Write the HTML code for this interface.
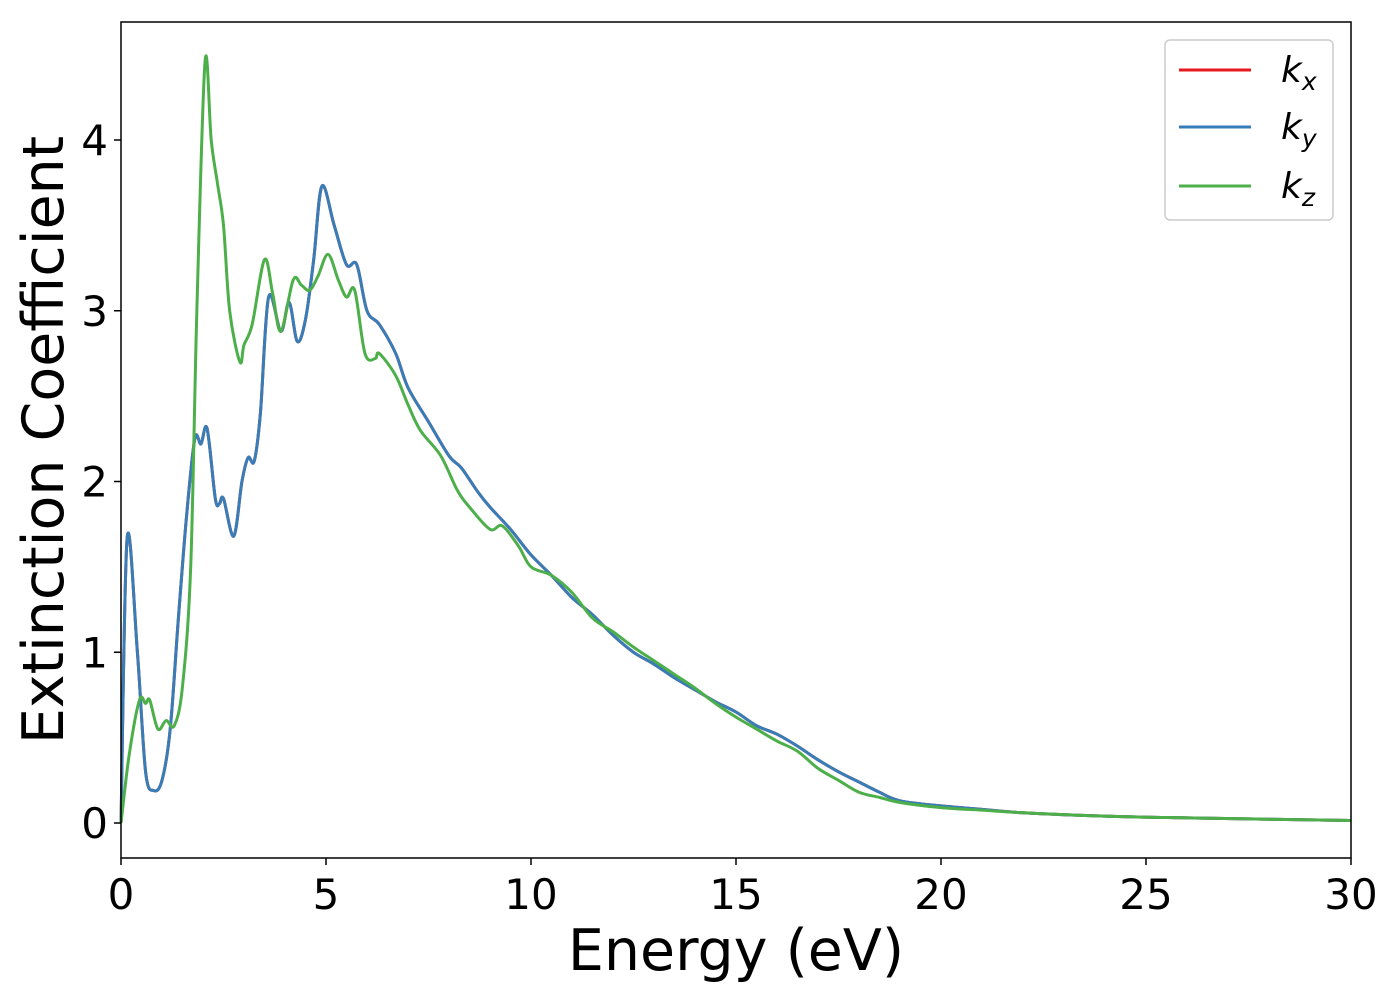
<!DOCTYPE html>
<html><head><meta charset="utf-8"><style>
body{margin:0;background:#fff}
svg text{font-family:"DejaVu Sans","Liberation Sans",sans-serif}
</style></head><body>
<svg id="chart" width="1400" height="1000" xmlns="http://www.w3.org/2000/svg">
<rect width="1400" height="1000" fill="#fff"/>
<g id="plot"></g>
<rect x="121" y="22" width="1230" height="836" fill="none" stroke="#000" stroke-width="1.5"/>
<g id="ticks"></g>
<text x="736" y="970" font-size="57" text-anchor="middle">Energy (eV)</text>
<text transform="translate(63,440) rotate(-90)" font-size="57" text-anchor="middle">Extinction Coefficient</text>
<g>
<rect x="1165" y="40" width="168" height="180" rx="5" fill="#fff" stroke="#ccc" stroke-width="1.5"/>
<line x1="1179" y1="70" x2="1251" y2="70" stroke="#e41a1c" stroke-width="3"/>
<text x="1281" y="82" font-size="36" font-style="italic">k<tspan font-size="25" dy="8">x</tspan></text>
<line x1="1179" y1="127" x2="1251" y2="127" stroke="#377eb8" stroke-width="3"/>
<text x="1281" y="139" font-size="36" font-style="italic">k<tspan font-size="25" dy="8">y</tspan></text>
<line x1="1179" y1="186" x2="1251" y2="186" stroke="#4daf4a" stroke-width="3"/>
<text x="1281" y="198" font-size="36" font-style="italic">k<tspan font-size="25" dy="8">z</tspan></text>
</g>
</svg>
<script>
const xTicks=[0,5,10,15,20,25,30];
const yTicks=[0,1,2,3,4];
const energyXY=[0,0.15,0.4,0.6,0.8,1.0,1.2,1.4,1.6,1.8,1.95,2.1,2.3,2.4,2.5,2.75,2.95,3.1,3.25,3.4,3.6,3.9,4.1,4.3,4.5,4.7,4.9,5.2,5.5,5.75,6.0,6.3,6.7,7,7.5,8,8.3,8.7,9,9.5,10,10.5,11,11.5,12,12.5,13,13.5,14,14.5,15,15.5,16,16.5,17,17.5,18,18.5,19,20,21,22,24,26,30];
const kxValues=[0,1.67,1.0,0.3,0.19,0.25,0.55,1.2,1.8,2.25,2.22,2.31,1.9,1.87,1.9,1.68,2.0,2.14,2.12,2.4,3.08,2.88,3.05,2.82,2.95,3.3,3.73,3.5,3.27,3.27,3.0,2.92,2.75,2.55,2.35,2.15,2.08,1.94,1.85,1.72,1.57,1.45,1.32,1.22,1.1,1.0,0.93,0.85,0.78,0.71,0.65,0.57,0.52,0.45,0.37,0.3,0.24,0.18,0.13,0.1,0.08,0.06,0.04,0.03,0.015];
const kyValues=kxValues.slice();
const energyZ=[0,0.2,0.45,0.6,0.7,0.9,1.1,1.3,1.5,1.7,1.85,2.05,2.2,2.35,2.5,2.65,2.9,3.0,3.2,3.5,3.7,3.9,4.2,4.4,4.6,4.8,5.05,5.3,5.5,5.7,5.95,6.2,6.3,6.7,7,7.3,7.8,8.2,8.5,9,9.3,9.7,10,10.5,11,11.5,12,12.5,13,13.5,14,14.5,15,15.5,16,16.5,17,17.5,18,18.5,19,20,21,22,24,26,30];
const kzValues=[0,0.4,0.72,0.7,0.72,0.55,0.6,0.57,0.8,1.5,3.0,4.46,4.0,3.75,3.5,3.0,2.7,2.8,2.92,3.3,3.1,2.88,3.18,3.15,3.12,3.2,3.33,3.18,3.08,3.12,2.75,2.72,2.75,2.62,2.45,2.3,2.15,1.95,1.85,1.72,1.74,1.62,1.5,1.45,1.35,1.2,1.12,1.03,0.95,0.87,0.79,0.7,0.62,0.55,0.48,0.42,0.32,0.25,0.18,0.15,0.12,0.09,0.075,0.06,0.04,0.03,0.015];
const X0=121,X1=1351,Y0=823,PY=170.75;
const xs=e=>X0+(e/30)*(X1-X0);
const ys=k=>Y0-k*PY;
const NS="http://www.w3.org/2000/svg";
function pathD(E,K){
  const p=E.map((e,i)=>[xs(e),ys(K[i])]);
  let d="M"+p[0][0].toFixed(2)+","+p[0][1].toFixed(2);
  for(let i=0;i<p.length-1;i++){
    const a=p[Math.max(0,i-1)],b=p[i],c=p[i+1],n=p[Math.min(p.length-1,i+2)];
    const t=0.5/3;
    let c1x=b[0]+(c[0]-a[0])*t,c1y=b[1]+(c[1]-a[1])*t;
    let c2x=c[0]-(n[0]-b[0])*t,c2y=c[1]-(n[1]-b[1])*t;
    d+=" C"+c1x.toFixed(2)+","+c1y.toFixed(2)+" "+c2x.toFixed(2)+","+c2y.toFixed(2)+" "+c[0].toFixed(2)+","+c[1].toFixed(2);
  }
  return d;
}
const plot=document.getElementById('plot');
const series=[[energyXY,kxValues,"#e41a1c","series-kx"],[energyXY,kyValues,"#377eb8","series-ky"],[energyZ,kzValues,"#4daf4a","series-kz"]];
for(const s of series){
  const el=document.createElementNS(NS,"path");
  el.setAttribute("d",pathD(s[0],s[1]));
  el.setAttribute("fill","none");
  el.setAttribute("stroke",s[2]);
  el.setAttribute("stroke-width","3");
  
  
  plot.appendChild(el);
}
const tg=document.getElementById('ticks');
for(const t of xTicks){
  const l=document.createElementNS(NS,"line");
  l.setAttribute("x1",xs(t));l.setAttribute("x2",xs(t));l.setAttribute("y1",858);l.setAttribute("y2",865);l.setAttribute("stroke","#000");l.setAttribute("stroke-width","1.5");
  
  
  tg.appendChild(l);
  const tx=document.createElementNS(NS,"text");
  tx.setAttribute("x",xs(t));tx.setAttribute("y",909);tx.setAttribute("font-size","42");tx.setAttribute("text-anchor","middle");
  tx.textContent=t;
  
  
  tg.appendChild(tx);
}
for(const t of yTicks){
  const l=document.createElementNS(NS,"line");
  l.setAttribute("x1",114);l.setAttribute("x2",121);l.setAttribute("y1",ys(t));l.setAttribute("y2",ys(t));l.setAttribute("stroke","#000");l.setAttribute("stroke-width","1.5");
  
  
  tg.appendChild(l);
  const tx=document.createElementNS(NS,"text");
  tx.setAttribute("x",108);tx.setAttribute("y",ys(t)+15);tx.setAttribute("font-size","42");tx.setAttribute("text-anchor","end");
  tx.textContent=t;
  
  
  tg.appendChild(tx);
}
</script>
</body></html>
